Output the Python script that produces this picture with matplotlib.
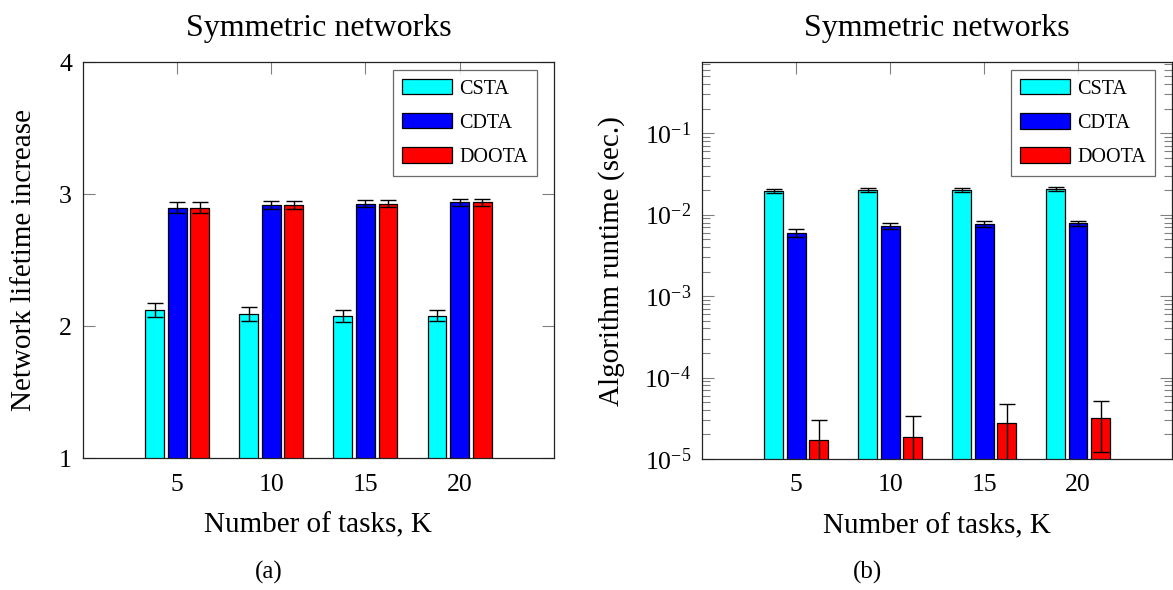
import matplotlib
matplotlib.use("Agg")
import matplotlib.pyplot as plt
from matplotlib.ticker import LogLocator, NullFormatter
import numpy as np

plt.rcParams["font.family"] = ["Liberation Serif", "DejaVu Serif"]
plt.rcParams["mathtext.fontset"] = "custom"
plt.rcParams["mathtext.rm"] = "Liberation Serif"
plt.rcParams["mathtext.it"] = "Liberation Serif:italic"

# number of tasks K
tasks = [5, 10, 15, 20]
methods = ["CSTA", "CDTA", "DOOTA"]
colors = ["#00ffff", "#0000ff", "#ff0000"]

# network lifetime increase (mean, error)
life_csta = [2.12, 2.09, 2.08, 2.08]
life_cdta = [2.90, 2.92, 2.93, 2.94]
life_doota = [2.90, 2.92, 2.93, 2.94]
life_csta_err = [0.053, 0.053, 0.045, 0.040]
life_cdta_err = [0.038, 0.033, 0.029, 0.027]
life_doota_err = [0.038, 0.033, 0.029, 0.027]

# algorithm runtime in seconds (mean, error)
run_csta = [0.0194, 0.0200, 0.0200, 0.0205]
run_cdta = [0.00598, 0.00723, 0.00764, 0.00787]
run_doota = [1.70e-5, 1.88e-5, 2.74e-5, 3.21e-5]
run_csta_err = [0.0010, 0.0012, 0.0012, 0.0012]
run_cdta_err = [0.0006, 0.0006, 0.0006, 0.0006]
run_doota_err = [1.33e-5, 1.49e-5, 1.95e-5, 1.98e-5]

W, H = 1173, 590
fig = plt.figure(figsize=(W / 100, H / 100), dpi=100)
ax1 = fig.add_axes([83 / W, 1 - 458.3 / H, 470.7 / W, 396 / H])
ax2 = fig.add_axes([702.3 / W, 1 - 459 / H, 469.7 / W, 396.7 / H])

bar_w = 1.0
offsets = [-1.2, 0.0, 1.2]
x = np.array(tasks, dtype=float)


def draw_bars(ax, series, errs):
    for off, vals, err, col, name in zip(offsets, series, errs, colors, methods):
        ax.bar(x + off, vals, bar_w, color=col, edgecolor="black",
               linewidth=0.9, label=name, zorder=2)
        ax.errorbar(x + off, vals, yerr=err, fmt="none", ecolor="black",
                    elinewidth=1.0, capsize=6, capthick=1.0, zorder=3)


def style_axes(ax):
    ax.set_xlim(0, 25)
    ax.set_xticks(tasks)
    ax.tick_params(which="both", direction="in", top=True, right=True,
                   color="#808080", width=0.8, labelsize=18.5)
    ax.tick_params(which="major", length=8.5, pad=8)
    ax.tick_params(which="minor", length=5.5)
    ax.tick_params(axis="x", pad=11)
    for s in ax.spines.values():
        s.set_linewidth(0.9)
        s.set_color("#222222")
    ax.set_xlabel("Number of tasks, K", fontsize=21, labelpad=12)
    ax.set_title("Symmetric networks", fontsize=23, pad=19)
    leg = ax.legend(loc="upper right", bbox_to_anchor=(0.9645, 0.981),
                    borderaxespad=0, fontsize=14.5, frameon=True, fancybox=False,
                    handlelength=2.5, handleheight=0.8, handletextpad=0.35,
                    labelspacing=0.72, borderpad=0.45)
    leg.get_frame().set_edgecolor("#444444")
    leg.get_frame().set_linewidth(0.9)


# (a) lifetime
draw_bars(ax1, [life_csta, life_cdta, life_doota],
          [life_csta_err, life_cdta_err, life_doota_err])
ax1.set_ylim(1, 4)
ax1.set_yticks([1, 2, 3, 4])
style_axes(ax1)
ax1.set_ylabel("Network lifetime increase", fontsize=21, labelpad=16)

# (b) runtime, log scale
draw_bars(ax2, [run_csta, run_cdta, run_doota],
          [run_csta_err, run_cdta_err, run_doota_err])
ax2.set_yscale("log")
ax2.set_ylim(1e-5, 10 ** -0.13)
ax2.yaxis.set_major_locator(LogLocator(base=10, numticks=10))
ax2.yaxis.set_minor_locator(LogLocator(base=10, subs=np.arange(2, 10), numticks=20))
ax2.yaxis.set_minor_formatter(NullFormatter())
style_axes(ax2)
ax2.set_ylabel("Algorithm runtime (sec.)", fontsize=21, labelpad=14)

fig.text(269 / W, 1 - 572 / H, "(a)", fontsize=18, ha="center", va="center")
fig.text(867 / W, 1 - 572 / H, "(b)", fontsize=18, ha="center", va="center")

fig.savefig("out.png", dpi=100)
